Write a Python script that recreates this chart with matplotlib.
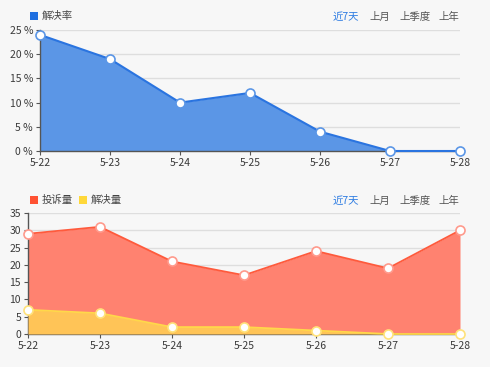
import matplotlib
matplotlib.use("Agg")
import matplotlib.pyplot as plt
from matplotlib.patches import Rectangle

plt.rcParams['font.family'] = ['Noto Sans CJK SC', 'DejaVu Sans']

dates = ["5-22", "5-23", "5-24", "5-25", "5-26", "5-27", "5-28"]
rate = [24, 19, 10, 12, 4, 0, 0]
complaints = [29, 31, 21, 17, 24, 19, 30]
resolved = [7, 6, 2, 2, 1, 0, 0]
rate_ticks = [0, 5, 10, 15, 20, 25]
count_ticks = [0, 5, 10, 15, 20, 25, 30, 35]
buttons = ["近7天", "上月", "上季度", "上年"]

W, H = 500, 371
fig = plt.figure(figsize=(5, 3.71), dpi=100)
fig.patch.set_facecolor("white")
fig.patches.append(Rectangle((0, 4 / H), 490 / W, 1 - 4 / H, transform=fig.transFigure,
                             facecolor="#f7f7f7", edgecolor="none", zorder=-10))

def px(x, y):
    return x / W, 1 - y / H

axis_col = "#555555"
tick_col = "#3a3a3a"
grid_col = "#dedede"

def style(ax, ymax, yticks, ylabels):
    ax.set_facecolor("none")
    ax.set_xlim(0, len(dates) - 1)
    ax.set_ylim(0, ymax)
    ax.set_xticks(range(len(dates)))
    ax.set_xticklabels(dates)
    ax.set_yticks(yticks)
    ax.set_yticklabels(ylabels)
    for s in ["top", "right"]:
        ax.spines[s].set_visible(False)
    for s in ["left", "bottom"]:
        ax.spines[s].set_color(axis_col)
        ax.spines[s].set_linewidth(1.0)
    ax.tick_params(axis="both", colors=axis_col, labelcolor=tick_col, labelsize=7.5,
                   length=3, width=0.8, pad=2)
    ax.yaxis.grid(True, color=grid_col, linewidth=1.0)
    ax.set_axisbelow(True)

# Top chart
l, b = px(40, 151)
r, t = px(460, 30)
ax1 = fig.add_axes([l, b, r - l, t - b])
x = list(range(len(dates)))
ax1.fill_between(x, rate, 0, color="#5b96e6", linewidth=0, zorder=2)
ax1.plot(x, rate, color="#2a74e0", linewidth=1.5, marker="o", markersize=6.5,
         markerfacecolor="white", markeredgecolor="#5b96e6", markeredgewidth=1.2,
         zorder=3, clip_on=False)
style(ax1, 25, rate_ticks, [f"{v} %" for v in rate_ticks])

# Bottom chart
l, b = px(28, 334)
r, t = px(460, 213)
ax2 = fig.add_axes([l, b, r - l, t - b])
ax2.fill_between(x, complaints, 0, color="#ff8270", linewidth=0, zorder=2)
ax2.plot(x, complaints, color="#ff5a3c", linewidth=1.3, marker="o", markersize=6.5,
         markerfacecolor="white", markeredgecolor="#ff9a8c", markeredgewidth=1.2,
         zorder=3, clip_on=False)
ax2.fill_between(x, resolved, 0, color="#ffc457", linewidth=0, zorder=4)
ax2.plot(x, resolved, color="#ffd84a", linewidth=1.3, marker="o", markersize=6.5,
         markerfacecolor="white", markeredgecolor="#ffe27a", markeredgewidth=1.2,
         zorder=5, clip_on=False)
style(ax2, 35, count_ticks, [str(v) for v in count_ticks])

# Legends
def legend_item(xp, yp, color, label):
    fig.patches.append(Rectangle(px(xp, yp + 4), 8 / W, 8 / H, transform=fig.transFigure,
                                 facecolor=color, edgecolor="none"))
    fig.text(*px(xp + 12, yp), label, fontsize=7.5, color="#444444", va="center", ha="left")

legend_item(30, 16, "#1f6fe0", "解决率")
legend_item(30, 200, "#ff5233", "投诉量")
legend_item(79, 200, "#ffd83a", "解决量")

# Buttons
btn_x = [333, 369, 399, 438]
for yy in (17, 201):
    for i, (bx, lab) in enumerate(zip(btn_x, buttons)):
        fig.text(*px(bx, yy), lab, fontsize=7.5, va="center", ha="left",
                 color="#2a7ae2" if i == 0 else "#555555")

fig.savefig("out.png", dpi=100, facecolor=fig.get_facecolor())
